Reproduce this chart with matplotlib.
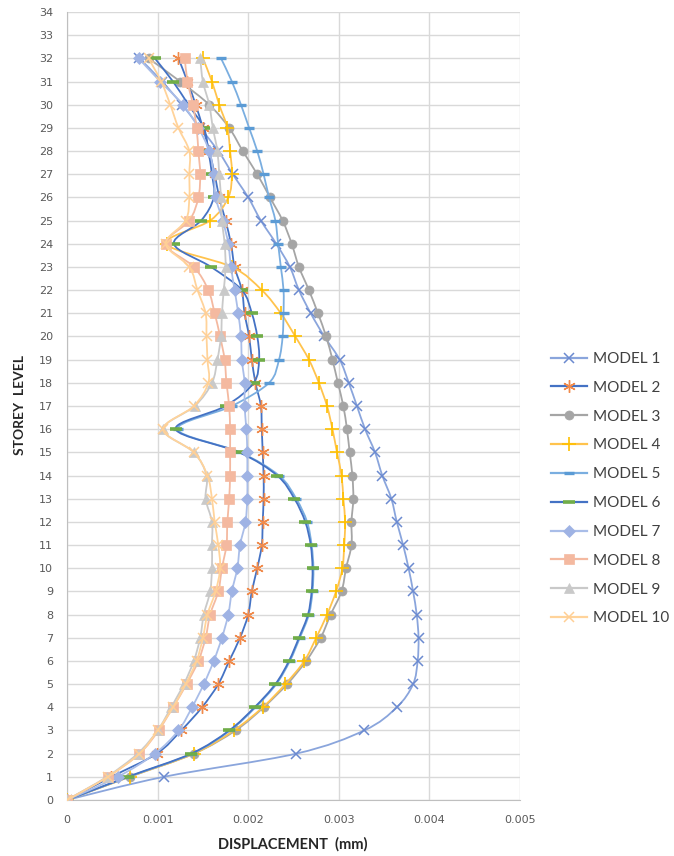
import matplotlib
matplotlib.use("Agg")
import matplotlib.pyplot as plt
from matplotlib.lines import Line2D
from matplotlib.path import Path
from matplotlib.patches import PathPatch

# ==========================================
# 1) data (read off the reference picture)
# ==========================================
levels = list(range(0, 33))

model_1 = [0, 0.00107, 0.00253, 0.00328, 0.00364, 0.00382, 0.00387, 0.00388, 0.00386, 0.00382,
           0.00377, 0.00371, 0.00364, 0.00358, 0.00348, 0.00340, 0.00329, 0.00320, 0.00311, 0.00301,
           0.00284, 0.00269, 0.00256, 0.00246, 0.00231, 0.00214, 0.00200, 0.00183, 0.00167, 0.00147,
           0.00127, 0.00105, 0.00080]
model_2 = [0, 0.00049, 0.00099, 0.00126, 0.00149, 0.00167, 0.00179, 0.00191, 0.00200, 0.00204,
           0.00210, 0.00215, 0.00216, 0.00217, 0.00217, 0.00216, 0.00215, 0.00214, 0.00208, 0.00204,
           0.00201, 0.00196, 0.00193, 0.00185, 0.00181, 0.00175, 0.00168, 0.00163, 0.00157, 0.00150,
           0.00142, 0.00133, 0.00123]
model_3 = [0, 0.00069, 0.00140, 0.00186, 0.00217, 0.00243, 0.00264, 0.00280, 0.00291, 0.00303,
           0.00308, 0.00314, 0.00314, 0.00316, 0.00315, 0.00312, 0.00309, 0.00305, 0.00299, 0.00293,
           0.00286, 0.00277, 0.00267, 0.00256, 0.00248, 0.00238, 0.00224, 0.00210, 0.00194, 0.00179,
           0.00157, 0.00125, 0.00090]
model_4 = [0, 0.00069, 0.00140, 0.00184, 0.00216, 0.00241, 0.00262, 0.00275, 0.00287, 0.00297,
           0.00304, 0.00306, 0.00307, 0.00305, 0.00303, 0.00298, 0.00293, 0.00287, 0.00278, 0.00267,
           0.00252, 0.00236, 0.00215, 0.00182, 0.00110, 0.00158, 0.00178, 0.00182, 0.00180, 0.00177,
           0.00168, 0.00160, 0.00150]
model_5 = [0, 0.00068, 0.00138, 0.00180, 0.00208, 0.00231, 0.00246, 0.00257, 0.00267, 0.00271,
           0.00272, 0.00270, 0.00265, 0.00253, 0.00234, 0.00191, 0.00122, 0.00182, 0.00223, 0.00234,
           0.00238, 0.00239, 0.00239, 0.00236, 0.00233, 0.00230, 0.00223, 0.00217, 0.00210, 0.00201,
           0.00192, 0.00182, 0.00170]
model_6 = [0, 0.00067, 0.00137, 0.00179, 0.00207, 0.00230, 0.00245, 0.00256, 0.00266, 0.00270,
           0.00271, 0.00269, 0.00263, 0.00251, 0.00232, 0.00190, 0.00120, 0.00175, 0.00206, 0.00212,
           0.00210, 0.00204, 0.00193, 0.00159, 0.00118, 0.00148, 0.00162, 0.00160, 0.00156, 0.00151,
           0.00134, 0.00117, 0.00097]
model_7 = [0, 0.00056, 0.00097, 0.00123, 0.00138, 0.00151, 0.00162, 0.00171, 0.00178, 0.00182,
           0.00188, 0.00191, 0.00197, 0.00199, 0.00199, 0.00199, 0.00198, 0.00196, 0.00196, 0.00193,
           0.00192, 0.00189, 0.00185, 0.00181, 0.00178, 0.00172, 0.00164, 0.00162, 0.00157, 0.00145,
           0.00128, 0.00103, 0.00079]
model_8 = [0, 0.00045, 0.00080, 0.00101, 0.00117, 0.00132, 0.00145, 0.00153, 0.00158, 0.00167,
           0.00171, 0.00176, 0.00177, 0.00179, 0.00180, 0.00180, 0.00180, 0.00179, 0.00176, 0.00174,
           0.00169, 0.00163, 0.00156, 0.00140, 0.00109, 0.00135, 0.00145, 0.00147, 0.00145, 0.00143,
           0.00139, 0.00133, 0.00130]
model_9 = [0, 0.00044, 0.00078, 0.00100, 0.00115, 0.00129, 0.00140, 0.00147, 0.00151, 0.00158,
           0.00160, 0.00160, 0.00160, 0.00153, 0.00154, 0.00140, 0.00106, 0.00141, 0.00160, 0.00166,
           0.00170, 0.00171, 0.00173, 0.00175, 0.00174, 0.00171, 0.00170, 0.00168, 0.00166, 0.00161,
           0.00157, 0.00150, 0.00147]
model_10 = [0, 0.00045, 0.00080, 0.00100, 0.00117, 0.00131, 0.00143, 0.00150, 0.00155, 0.00164,
            0.00169, 0.00167, 0.00163, 0.00160, 0.00155, 0.00140, 0.00106, 0.00140, 0.00156, 0.00155,
            0.00154, 0.00153, 0.00144, 0.00135, 0.00109, 0.00131, 0.00135, 0.00135, 0.00135, 0.00123,
            0.00114, 0.00104, 0.00090]

x_ticks = [0, 0.001, 0.002, 0.003, 0.004, 0.005]
x_tick_labels = ["0", "0.001", "0.002", "0.003", "0.004", "0.005"]

# ==========================================
# 2) styles: label, values, line colour, marker, marker colour, size, edge width
# ==========================================
series = [
    ("MODEL 1", model_1, "#8AA5DC", "x", "#6B8AD0", 7, 1.1),
    ("MODEL 2", model_2, "#4472C4", (6, 2, 0), "#F08A4B", 9, 1.0),
    ("MODEL 3", model_3, "#A5A5A5", "o", "#A5A5A5", 6.5, 0.5),
    ("MODEL 4", model_4, "#FFC34D", "+", "#FFC000", 10, 1.2),
    ("MODEL 5", model_5, "#7AAEE0", "_", "#5B9BD5", 7.5, 2.4),
    ("MODEL 6", model_6, "#4472C4", "_", "#70AD47", 8.5, 2.6),
    ("MODEL 7", model_7, "#A9BDE8", "D", "#9FB3E4", 5.8, 0.5),
    ("MODEL 8", model_8, "#F4B9A0", "s", "#F4B9A0", 6.8, 0.5),
    ("MODEL 9", model_9, "#C9C9C9", "^", "#C9C9C9", 7.5, 0.5),
    ("MODEL 10", model_10, "#FFD39A", "x", "#FFCF95", 7, 1.1),
]


def smooth_path(xs, ys):
    # excel style smoothed line: bezier segments through every point
    n = len(xs)
    verts = [(xs[0], ys[0])]
    codes = [Path.MOVETO]
    for i in range(n - 1):
        x0, y0 = xs[max(i - 1, 0)], ys[max(i - 1, 0)]
        x1, y1 = xs[i], ys[i]
        x2, y2 = xs[i + 1], ys[i + 1]
        x3, y3 = xs[min(i + 2, n - 1)], ys[min(i + 2, n - 1)]
        c1 = (x1 + (x2 - x0) / 6, y1 + (y2 - y0) / 6)
        c2 = (x2 - (x3 - x1) / 6, y2 - (y3 - y1) / 6)
        verts += [c1, c2, (x2, y2)]
        codes += [Path.CURVE4, Path.CURVE4, Path.CURVE4]
    return Path(verts, codes)


plt.rcParams["font.family"] = ["Lato", "DejaVu Sans"]

fig = plt.figure(figsize=(6.74, 8.56), dpi=100)
ax = fig.add_axes([67 / 674, 1 - 800 / 856, 453 / 674, 788 / 856])

handles = []
for k, (label, values, lc, mk, mc, ms, mew) in enumerate(series):
    ax.add_patch(PathPatch(smooth_path(values, levels), facecolor="none", edgecolor=lc,
                           lw=1.3, zorder=3 + k * 0.1))
    ax.plot(values, levels, linestyle="none", marker=mk, markersize=ms,
            markerfacecolor=mc, markeredgecolor=mc, markeredgewidth=mew, zorder=3.05 + k * 0.1)
    handles.append(Line2D([0], [0], color=lc, lw=1.6, marker=mk, markersize=ms,
                          markerfacecolor=mc, markeredgecolor=mc, markeredgewidth=mew,
                          label=label))

ax.set_xlim(0, 0.005)
ax.set_ylim(0, 34)
ax.set_xticks(x_ticks)
ax.set_xticklabels(x_tick_labels)
ax.set_yticks(range(0, 35))
ax.grid(True, color="#D9D9D9", lw=1.0, zorder=0)
ax.set_axisbelow(True)
ax.tick_params(length=0, colors="#595959")
ax.tick_params(axis="x", pad=11)
ax.tick_params(axis="y", pad=10)
for lab in ax.get_xticklabels() + ax.get_yticklabels():
    lab.set_fontfamily("DejaVu Sans")
    lab.set_fontsize(8)
for side in ["top", "right"]:
    ax.spines[side].set_visible(False)
for side in ["left", "bottom"]:
    ax.spines[side].set_color("#BFBFBF")

fig.text(293 / 674, 1 - 844 / 856, "DISPLACEMENT  (mm)", fontsize=10.5, fontweight="bold",
         color="#262626", ha="center", va="center")
fig.text(20 / 674, 1 - 405 / 856, "STOREY  LEVEL", fontsize=10, fontweight="bold",
         color="#262626", ha="center", va="center", rotation=90)

ax.legend(handles=handles, loc="upper left", bbox_to_anchor=(551 / 674, 1 - 352 / 856),
          bbox_transform=fig.transFigure, frameon=False, fontsize=11,
          handlelength=2.35, handletextpad=0.42, labelspacing=0.97,
          borderpad=0, borderaxespad=0, labelcolor="#404040")

fig.savefig("out.png", dpi=100)
